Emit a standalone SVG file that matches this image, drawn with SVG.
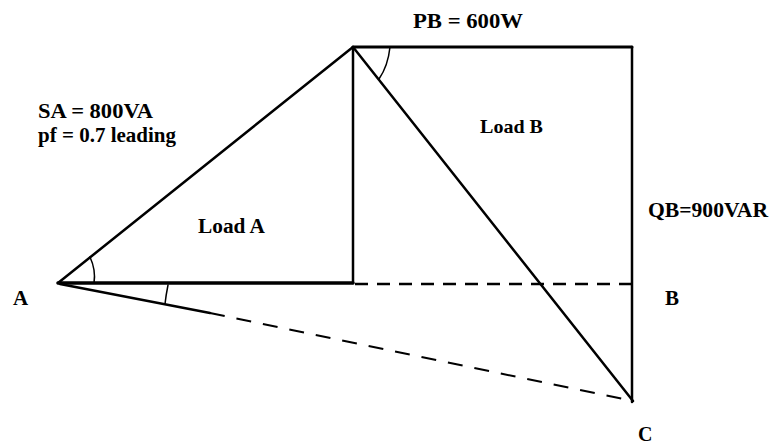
<svg xmlns="http://www.w3.org/2000/svg" width="773" height="446" viewBox="0 0 773 446">
<style>
.t{font-family:"Liberation Serif","Times New Roman",serif;font-weight:bold;fill:#000}
.l{stroke:#000;fill:none;stroke-linecap:round}
.d{stroke:#000;fill:none}
</style>
<rect width="773" height="446" fill="#fff"/>
<g id="connectors">
<line class="l" x1="58" y1="283" x2="353" y2="47" stroke-width="2.5"/>
<line class="l" x1="58" y1="283" x2="353" y2="283" stroke-width="3.5"/>
<line class="l" x1="353" y1="47" x2="353" y2="283" stroke-width="2.5"/>
<line class="l" x1="353" y1="47" x2="632" y2="47" stroke-width="3"/>
<line class="l" x1="632" y1="47" x2="632" y2="402" stroke-width="2.5"/>
<line class="l" x1="353" y1="47" x2="633" y2="401" stroke-width="2.5"/>
<line class="d" x1="355" y1="284" x2="632" y2="284" stroke-width="2.5" stroke-dasharray="13 9"/>
<line class="l" x1="60" y1="284" x2="210" y2="313" stroke-width="2.5"/>
<line class="d" x1="210" y1="313" x2="633" y2="401" stroke-width="2" stroke-dasharray="15 12"/>
<path class="l" d="M90 257 Q96 270 94 283" stroke-width="1.5"/>
<path class="l" d="M168 285 Q166 295 165 304" stroke-width="1.5"/>
<path class="l" d="M390 47 Q388 66 379 79" stroke-width="1.5"/>
</g>
<g id="labels">
<text class="t" x="38" y="118" font-size="22" textLength="115" lengthAdjust="spacingAndGlyphs">SA = 800VA</text>
<text class="t" x="38" y="142" font-size="21" textLength="138" lengthAdjust="spacingAndGlyphs">pf = 0.7 leading</text>
<text class="t" x="413" y="28" font-size="21" textLength="110" lengthAdjust="spacingAndGlyphs">PB = 600W</text>
<text class="t" x="480" y="133" font-size="19" textLength="63" lengthAdjust="spacingAndGlyphs">Load B</text>
<text class="t" x="198" y="233" font-size="20" textLength="67" lengthAdjust="spacingAndGlyphs">Load A</text>
<text class="t" x="648" y="217" font-size="21" textLength="120" lengthAdjust="spacingAndGlyphs">QB=900VAR</text>
<text class="t" x="13" y="305" font-size="21">A</text>
<text class="t" x="665" y="305" font-size="21">B</text>
<text class="t" x="638" y="441" font-size="20">C</text>
</g>
</svg>
